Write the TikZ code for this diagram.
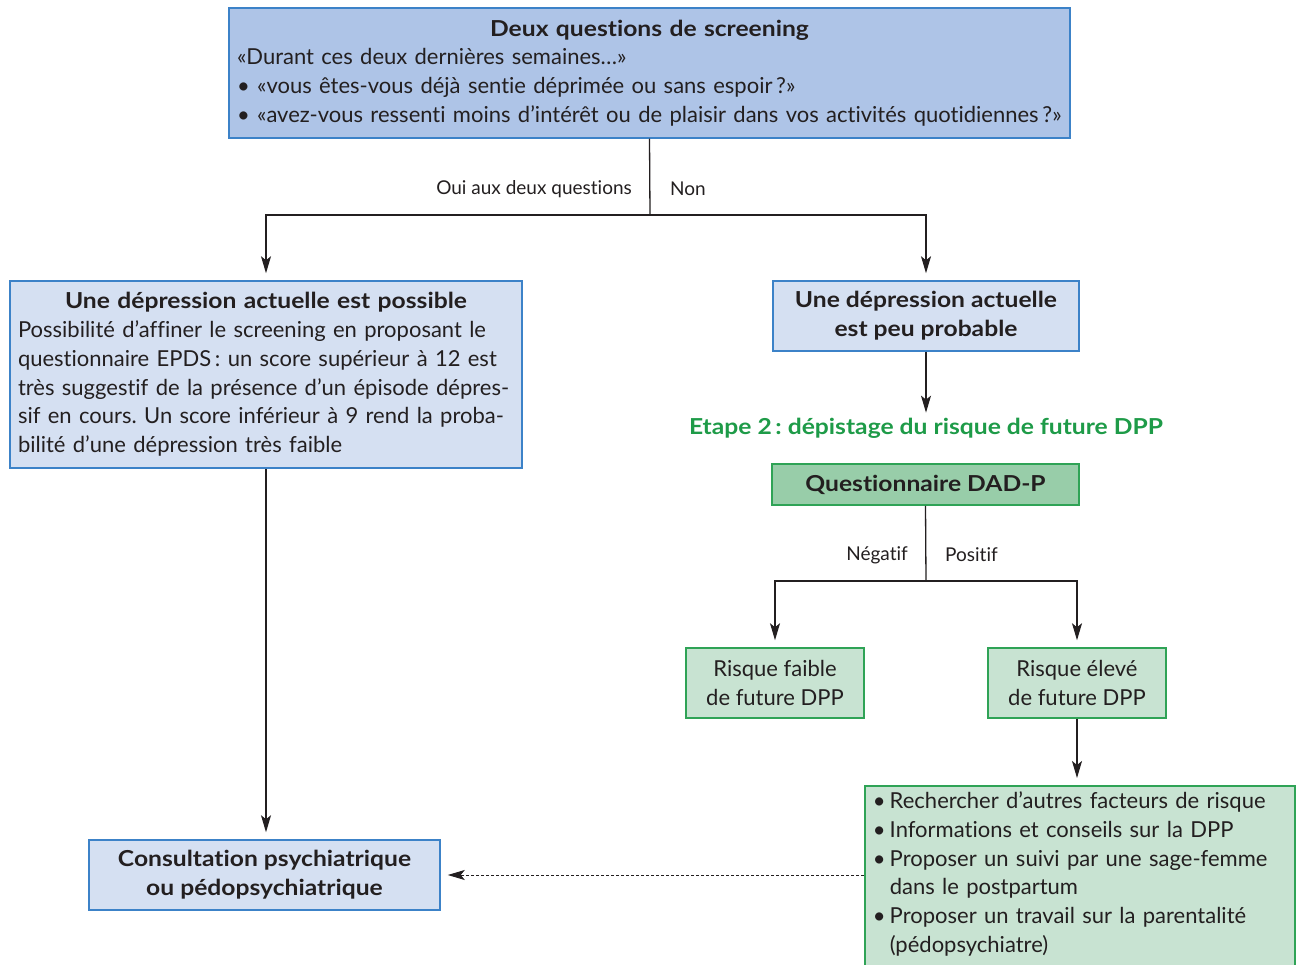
\documentclass[tikz,border=0pt]{standalone}
\usepackage{fontspec}
\setmainfont{Lato}[Ligatures=NoCommon, BoldFeatures={FakeStretch=1.12}]
\usetikzlibrary{arrows.meta}
\definecolor{bluebd}{HTML}{3C82C8}
\definecolor{bluedark}{HTML}{AEC4E7}
\definecolor{bluelight}{HTML}{D5E0F2}
\definecolor{greenbd}{HTML}{2FA356}
\definecolor{greendark}{HTML}{98CDA9}
\definecolor{greenlight}{HTML}{C8E3D2}
\definecolor{greentext}{HTML}{1E9B48}
\definecolor{ink}{HTML}{231F20}
\frenchspacing
\begin{document}
\begin{tikzpicture}[x=1pt,y=-1pt,
  every node/.style={text=ink},
  body/.style={font=\fontsize{22}{28.8}\selectfont},
  bodyb/.style={font=\fontsize{22}{28.8}\selectfont\bfseries},
  lab/.style={font=\fontsize{19}{22}\selectfont, inner sep=0pt},
  bbox/.style={draw=bluebd, line width=1.5pt, body, inner xsep=8pt, inner ysep=3pt},
  gbox/.style={draw=greenbd, line width=1.5pt, body, inner xsep=8pt, inner ysep=3pt},
  conn/.style={draw=ink, line width=1.3pt},
  arr/.style={conn, -{Stealth[length=17pt,width=10pt,inset=4pt]}, shorten >=7pt}]
\useasboundingbox (0,0) rectangle (1298,965);
\clip (0,0) rectangle (1298,965);
\fill[white] (0,0) rectangle (1298,965);

% top box
\node[bbox, fill=bluedark, minimum width=841pt, minimum height=130pt, text width=825pt, align=left] (q) at (649.5,73)
{\makebox[825pt][c]{\bfseries Deux questions de screening}\\
«Durant ces deux dernières semaines…»\\
• «vous êtes-vous déjà sentie déprimée ou sans espoir\,?»\\
• «avez-vous ressenti moins d’intérêt ou de plaisir dans vos activités quotidiennes\,?»};

% second row
\node[bbox, fill=bluelight, minimum width=512pt, minimum height=187pt, text width=496pt, align=left] (p) at (266,374.5)
{\makebox[496pt][c]{\bfseries Une dépression actuelle est possible}\\
Possibilité d’affiner le screening en proposant le\\
questionnaire EPDS\,: un score supérieur à 12 est\\
très suggestif de la présence d’un épisode dépres-\\
sif en cours. Un score inférieur à 9 rend la proba-\\
bilité d’une dépression très faible};

\node[bbox, fill=bluelight, minimum width=306pt, minimum height=70pt, align=center, bodyb] (r) at (926,316)
{Une dépression actuelle\\est peu probable};

\coordinate (j1) at (650,215);
\draw[conn] (q.south) -- (j1);
\draw[arr] (j1) -| (p.north);
\draw[arr] (j1) -| (r.north);
\node[lab, anchor=east] (oui) at (632,189) {Oui aux deux questions};
\node[lab, anchor=west] (non) at (670,189) {Non};

% etape 2
\node[font=\fontsize{22}{26}\selectfont\bfseries, text=greentext, inner sep=0pt] (etape) at (926,428)
{Etape 2\,: dépistage du risque de future DPP};
\draw[arr, shorten >=5pt] (r.south) -- (etape.north);

\node[gbox, fill=greendark, minimum width=307pt, minimum height=41pt, bodyb] (dad) at (925.5,484.5)
{Questionnaire DAD-P};

\node[gbox, fill=greenlight, minimum width=178pt, minimum height=70pt, align=center] (faible) at (775,683)
{Risque faible\\de future DPP};
\node[gbox, fill=greenlight, minimum width=178pt, minimum height=70pt, align=center] (eleve) at (1077,683)
{Risque élevé\\de future DPP};

\coordinate (j2) at (926,581);
\draw[conn] (dad.south) -- (j2);
\draw[arr] (j2) -| (faible.north);
\draw[arr] (j2) -| (eleve.north);
\node[lab, anchor=east] (neg) at (908,555) {Négatif};
\node[lab, anchor=west] (pos) at (945,555) {Positif};

\node[gbox, fill=greenlight, anchor=north west, text width=414pt, align=left, inner ysep=6pt] (act) at (864,785)
{\makebox[17pt][l]{•}Rechercher d’autres facteurs de risque\\
\makebox[17pt][l]{•}Informations et conseils sur la DPP\\
\makebox[17pt][l]{•}Proposer un suivi par une sage-femme\\
\hspace*{17pt}dans le postpartum\\
\makebox[17pt][l]{•}Proposer un travail sur la parentalité\\
\hspace*{17pt}(pédopsychiatre)\rule[-30pt]{0pt}{30pt}};
\draw[arr] (eleve.south) -- (eleve.south |- act.north);

% consultation
\node[bbox, fill=bluelight, minimum width=351pt, minimum height=70pt, align=center, bodyb] (cons) at (264.5,875)
{Consultation psychiatrique\\ou pédopsychiatrique};
\draw[arr] (p.south) -- (p.south |- cons.north);
\draw[arr, dashed, dash pattern=on 3pt off 2pt, line width=1pt] (act.west |- cons) -- (cons.east);
\end{tikzpicture}
\end{document}
